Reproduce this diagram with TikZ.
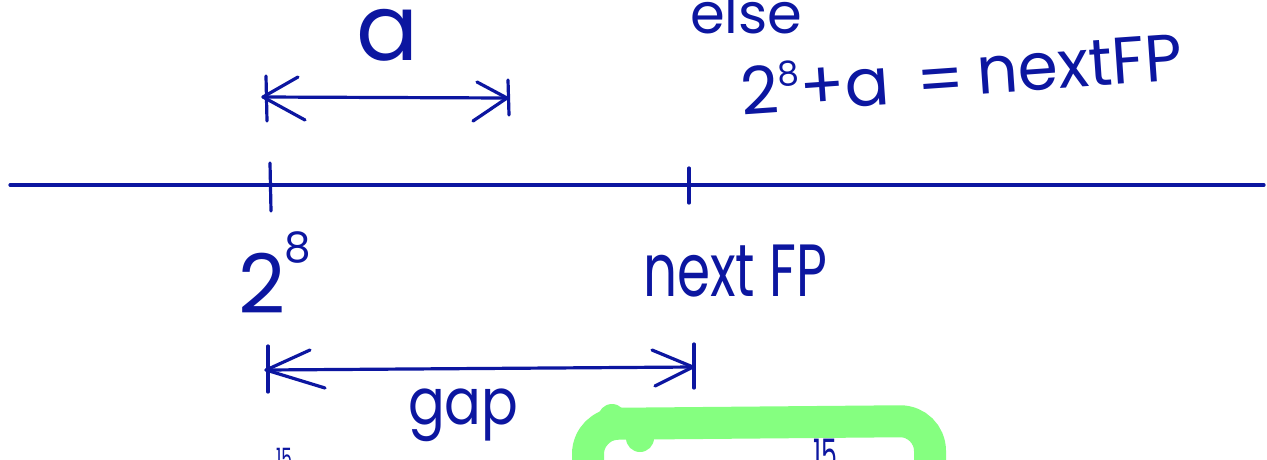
\documentclass[tikz,border=0pt]{standalone}
\usepackage{fontspec}
\setmainfont{Poppins}
\definecolor{ink}{RGB}{12,22,160}
\definecolor{hl}{RGB}{133,255,128}
\tikzset{
  inkline/.style={draw=ink, line width=3.2pt, line cap=round, line join=round},
  inktext/.style={text=ink, inner sep=0pt, outer sep=0pt},
  hlstroke/.style={draw=hl, line width=32pt, line cap=round, rounded corners=30pt}
}
\newcommand{\fs}[1]{\fontsize{#1}{#1}\selectfont}
\begin{document}
\begin{tikzpicture}[x=1pt,y=-1pt]
\useasboundingbox (0,0) rectangle (1267,459);
\clip (0,0) rectangle (1267,459);
\fill[white] (0,0) rectangle (1267,459);

% green highlight box
\draw[hlstroke] (588,490) -- (588,424) -- (930,421) -- (930,490);
\fill[hl] (640,438) circle (14pt);
\fill[hl] (612,418) circle (14pt);

% number line
\coordinate (L) at (10,185);
\coordinate (R) at (1264,185);
\draw[inkline] (L) -- (R);
\coordinate (t1a) at (270,163); \coordinate (t1b) at (271,211);
\coordinate (t2a) at (689,168); \coordinate (t2b) at (689,203);
\draw[inkline] (t1a) -- (t1b);
\draw[inkline] (t2a) -- (t2b);

% labels under the line
\node[inktext, anchor=base west] (two8) at (238,313) {\fs{82}2};
\node[inktext, anchor=base west] (two8e) at (284,262) {\fs{42}8};
\node[inktext, anchor=base west] (nextfp) at (643,296) {\scalebox{0.72}[1]{\fs{74}next FP}};

% top arrow (a)
\coordinate (aL) at (263,97);
\coordinate (aR) at (507,98);
\draw[inkline] (aL) -- (aR);
\draw[inkline] (266,76) -- (267,121);
\draw[inkline] (298,77) -- (aL) -- (305,120);
\draw[inkline] (508,80) -- (509,115);
\draw[inkline] (477,82) -- (aR) -- (473,121);
\node[inktext, anchor=base] (alabel) at (388,60) {\fs{92}a};

% bottom arrow (gap)
\coordinate (gL) at (266,370);
\coordinate (gR) at (693,367);
\draw[inkline] (gL) -- (gR);
\draw[inkline] (268,346) -- (268,392);
\draw[inkline] (310,350) -- (gL) -- (325,388);
\draw[inkline] (694,344) -- (694,388);
\draw[inkline] (652,350) -- (gR) -- (655,386);
\node[inktext, anchor=base west] (gaplabel) at (408,424) {\scalebox{0.85}[1]{\fs{64}gap}};

% else / equation
\node[inktext, anchor=base west] (else) at (690,33) {\fs{56}else};
\node[inktext, anchor=base west, rotate=4] (eqL) at (742,115)
  {\fs{66}2\raisebox{26pt}{\fs{34}8}+a};
\node[inktext, anchor=base west, rotate=4] (eqM) at (918,104) {\fs{66}=};
\node[inktext, anchor=base west, rotate=4] (eqR) at (978,94)
  {\scalebox{0.98}[1]{\fs{66}nextFP}};

% cut-off numbers at the bottom
\node[inktext, anchor=base west] (n15a) at (813,469) {\scalebox{0.6}[1]{\fs{42}15}};
\node[inktext, anchor=base west] (n15b) at (276,468) {\scalebox{0.6}[1]{\fs{28}15}};
\end{tikzpicture}
\end{document}
